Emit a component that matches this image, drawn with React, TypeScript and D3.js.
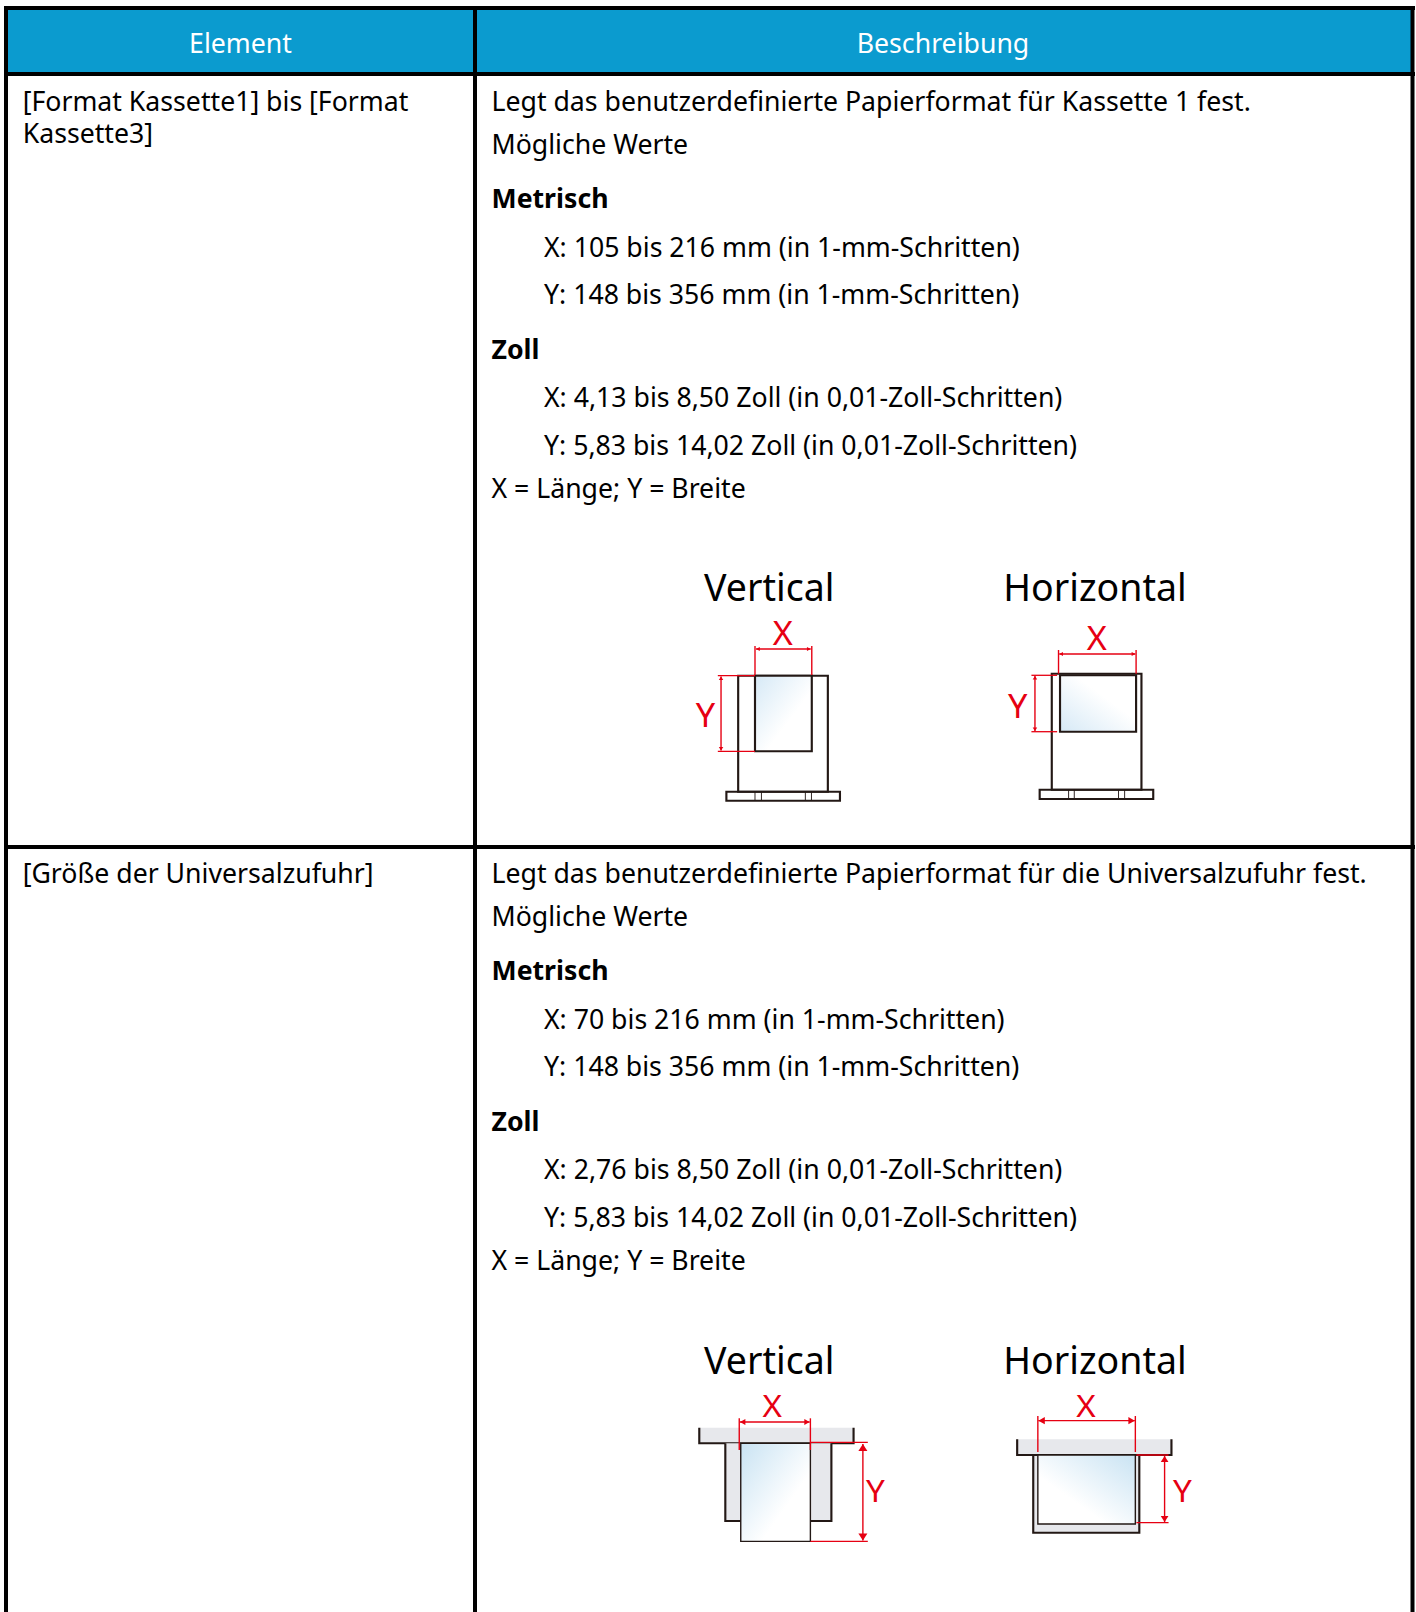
import React from "react";
import * as d3 from "d3";

const headers = ["Element", "Beschreibung"];
const rowLabels = [["[Format Kassette1] bis [Format", "Kassette3]"], ["[Größe der Universalzufuhr]"]];
const firstLines = [
  ["Legt das benutzerdefinierte Papierformat für Kassette 1 fest.", "Mögliche Werte"],
  ["Legt das benutzerdefinierte Papierformat für die Universalzufuhr fest.", "Mögliche Werte"],
];
const metricLines = [
  ["X: 105 bis 216 mm (in 1-mm-Schritten)", "Y: 148 bis 356 mm (in 1-mm-Schritten)"],
  ["X: 70 bis 216 mm (in 1-mm-Schritten)", "Y: 148 bis 356 mm (in 1-mm-Schritten)"],
];
const inchLines = [
  ["X: 4,13 bis 8,50 Zoll (in 0,01-Zoll-Schritten)", "Y: 5,83 bis 14,02 Zoll (in 0,01-Zoll-Schritten)"],
  ["X: 2,76 bis 8,50 Zoll (in 0,01-Zoll-Schritten)", "Y: 5,83 bis 14,02 Zoll (in 0,01-Zoll-Schritten)"],
];
const metricTitle = "Metrisch";
const inchTitle = "Zoll";
const noteLine = "X = Länge; Y = Breite";
const diagramTitles = ["Vertical", "Horizontal"];

const FONT = "'Noto Sans', sans-serif";
const SIZE = 26.67;
const RED = "#e60012";
const INK = "#231815";
const TRAY = "#e7e8ec";
const rowTop = [111, 883];
const STRETCH = `translate(650,0) scale(1.0714,1) translate(-650,0)`;

const rectPath = (x0: number, y0: number, x1: number, y1: number) => {
  const p = d3.path();
  p.rect(x0, y0, x1 - x0, y1 - y0);
  return p.toString();
};
const poly = (pts: [number, number][]) => d3.line()(pts) as string;

function Rect({ b, fill = "none", w = 2, stroke = INK }: any) {
  return <path d={rectPath(b[0], b[1], b[2], b[3])} fill={fill} stroke={stroke} strokeWidth={w} />;
}
function RedLine({ pts, w = 1.3 }: any) {
  return <path d={poly(pts)} fill="none" stroke={RED} strokeWidth={w} />;
}
function HArrow({ x0, x1, y, s = 4 }: any) {
  return (
    <g>
      <RedLine pts={[[x0, y], [x1, y]]} />
      <path d={poly([[x0, y], [x0 + s, y - s * 0.6], [x0 + s, y + s * 0.6]]) + "Z"} fill={RED} />
      <path d={poly([[x1, y], [x1 - s, y - s * 0.6], [x1 - s, y + s * 0.6]]) + "Z"} fill={RED} />
    </g>
  );
}
function VArrow({ x, y0, y1, s = 4 }: any) {
  return (
    <g>
      <RedLine pts={[[x, y0], [x, y1]]} />
      <path d={poly([[x, y0], [x - s * 0.6, y0 + s], [x + s * 0.6, y0 + s]]) + "Z"} fill={RED} />
      <path d={poly([[x, y1], [x - s * 0.6, y1 - s], [x + s * 0.6, y1 - s]]) + "Z"} fill={RED} />
    </g>
  );
}
function RedLetter({ t, x, y, size = 32 }: any) {
  return (
    <text x={x} y={y} textAnchor="middle" fontFamily={FONT} fontSize={size} fill={RED}>
      {t}
    </text>
  );
}
function Base({ x0, x1, y0, y1, ticks }: any) {
  return (
    <g>
      <Rect b={[x0, y0, x1, y1]} />
      {ticks.map((t: number) => (
        <path key={t} d={poly([[t, y0], [t, y1]])} stroke={INK} strokeWidth={0.9} fill="none" />
      ))}
    </g>
  );
}

function Titles({ y }: { y: number }) {
  return (
    <g fontFamily={FONT} fontSize={37.5} fill="#000">
      <text x={769.2} y={y} textAnchor="middle">{diagramTitles[0]}</text>
      <text x={1095} y={y} textAnchor="middle">{diagramTitles[1]}</text>
    </g>
  );
}

function Cassette() {
  return (
    <g>
      <Titles y={600.6} />
      <g transform={STRETCH}>
      {/* vertical */}
      <Rect b={[732.3, 675.7, 816, 791.7]} />
      <Base x0={721.3} x1={827.3} y0={791.7} y1={800.7} ticks={[748, 754, 795, 800.7]} />
      <Rect b={[748, 675.7, 801, 751.3]} fill="url(#gV1)" />
      <RedLine pts={[[748, 646], [748, 675]]} />
      <RedLine pts={[[801, 646], [801, 675]]} />
      <HArrow x0={749} x1={800} y={649} s={3.5} />
      <RedLine pts={[[713.3, 675.7], [748, 675.7]]} />
      <RedLine pts={[[713.3, 751.3], [748, 751.3]]} />
      <VArrow x={716.3} y0={676.5} y1={750.5} s={3.5} />
      <RedLetter t="X" x={774} y={645} />
      <RedLetter t="Y" x={701.7} y={727.5} />
      {/* horizontal */}
      <Rect b={[1025, 673.7, 1108.7, 789.7]} />
      <Base x0={1013.7} x1={1119.7} y0={789.7} y1={799} ticks={[1040.7, 1046, 1087.3, 1093]} />
      <Rect b={[1032.7, 675.3, 1103.7, 731.7]} fill="url(#gH1)" />
      <RedLine pts={[[1031.3, 650], [1031.3, 673.7]]} />
      <RedLine pts={[[1103.7, 650], [1103.7, 673.7]]} />
      <HArrow x0={1032} x1={1103} y={654} s={3.5} />
      <RedLine pts={[[1006, 675.3], [1030, 675.3]]} />
      <RedLine pts={[[1006, 731.7], [1030, 731.7]]} />
      <VArrow x={1009.3} y0={676} y1={731} s={3.5} />
      <RedLetter t="X" x={1067} y={650.3} />
      <RedLetter t="Y" x={993.3} y={718.5} />
      </g>
    </g>
  );
}

function Bypass() {
  const trayPath = (x0: number, y0: number, x1: number, y1: number) => poly([[x0, y0], [x0, y1], [x1, y1], [x1, y0]]);
  return (
    <g>
      <Titles y={1373.6} />
      <g transform={STRETCH}>
      {/* vertical */}
      <path d={rectPath(696, 1427.7, 840, 1443.3)} fill={TRAY} />
      <path d={trayPath(696, 1427.7, 840, 1443.3)} fill="none" stroke={INK} strokeWidth={2} />
      <path d={trayPath(720.3, 1443.3, 819.3, 1521)} fill={TRAY} stroke={INK} strokeWidth={2} />
      <Rect b={[734.7, 1443.3, 799.7, 1541.3]} fill="url(#gV2)" w={1.3} />
      <RedLine pts={[[733.3, 1418.3], [733.3, 1450]]} />
      <RedLine pts={[[799.7, 1418.3], [799.7, 1450]]} />
      <HArrow x0={734} x1={799} y={1422} s={5} />
      <RedLine pts={[[799.7, 1442.3], [853.3, 1442.3]]} />
      <RedLine pts={[[799.7, 1541.3], [853.3, 1541.3]]} />
      <VArrow x={848.7} y0={1444} y1={1540.5} s={7} />
      <RedLetter t="X" x={764} y={1417.3} size={31} />
      <RedLetter t="Y" x={860.3} y={1502} size={31} />
      {/* horizontal */}
      <path d={rectPath(992.7, 1439.3, 1136.7, 1455)} fill={TRAY} />
      <path d={trayPath(992.7, 1439.3, 1136.7, 1455)} fill="none" stroke={INK} strokeWidth={2} />
      <path d={rectPath(1007.7, 1455, 1106.7, 1532.7)} fill={TRAY} stroke={INK} strokeWidth={2} />
      <Rect b={[1012, 1455, 1103, 1524]} fill="url(#gH2)" w={1.3} />
      <RedLine pts={[[1012, 1416], [1012, 1452]]} />
      <RedLine pts={[[1103, 1416], [1103, 1452]]} />
      <HArrow x0={1012.5} x1={1102.5} y={1420.7} s={6} />
      <RedLine pts={[[1104, 1455], [1134, 1455]]} />
      <RedLine pts={[[1104, 1522.7], [1134, 1522.7]]} />
      <VArrow x={1130.3} y0={1456} y1={1522} s={6} />
      <RedLetter t="X" x={1057} y={1416.7} size={31} />
      <RedLetter t="Y" x={1147} y={1501.7} size={31} />
      </g>
    </g>
  );
}

function Description({ i }: { i: number }) {
  const t = rowTop[i];
  const xText = 491.5;
  const xIndent = 544;
  const T = (s: string, x: number, dy: number, bold = false) => (
    <text x={x} y={t + dy} fontWeight={bold ? 700 : 400}>{s}</text>
  );
  return (
    <g fontFamily={FONT} fontSize={SIZE} fill="#000">
      {T(firstLines[i][0], xText, 0)}
      {T(firstLines[i][1], xText, 43)}
      {T(metricTitle, xText, 96.5, true)}
      {T(metricLines[i][0], xIndent, 146)}
      {T(metricLines[i][1], xIndent, 193)}
      {T(inchTitle, xText, 247.5, true)}
      {T(inchLines[i][0], xIndent, 296)}
      {T(inchLines[i][1], xIndent, 343.5)}
      {T(noteLine, xText, 387)}
    </g>
  );
}

export default function App() {
  const W = 1416;
  const H = 1612;
  const colX = d3.scaleOrdinal<number, number>().domain([0, 1]).range([240.5, 943]);
  return (
    <svg width={W} height={H} viewBox={`0 0 ${W} ${H}`} style={{ position: "absolute", left: 0, top: 0, display: "block" }}>
      <defs>
        <linearGradient id="gV1" x1="0" y1="0" x2="1" y2="1">
          <stop offset="0" stopColor="#d6e9f6" /><stop offset="0.6" stopColor="#fff" />
        </linearGradient>
        <linearGradient id="gH1" x1="0" y1="1" x2="1" y2="0">
          <stop offset="0" stopColor="#d6e9f6" /><stop offset="0.6" stopColor="#fff" />
        </linearGradient>
        <linearGradient id="gV2" x1="0" y1="0" x2="1" y2="1">
          <stop offset="0" stopColor="#c9e3f3" /><stop offset="0.65" stopColor="#fff" />
        </linearGradient>
        <linearGradient id="gH2" x1="1" y1="0" x2="0" y2="1">
          <stop offset="0" stopColor="#c9e3f3" /><stop offset="0.65" stopColor="#fff" />
        </linearGradient>
      </defs>
      <rect x={0} y={0} width={W} height={H} fill="#fff" />
      <rect x={6} y={8} width={1406} height={66} fill="#0b9bcf" />
      <g stroke="#000" strokeWidth={4} fill="none">
        <path d={poly([[4, 8], [1415, 8]])} />
        <path d={poly([[4, 74], [1415, 74]])} />
        <path d={poly([[4, 847], [1415, 847]])} />
        <path d={poly([[6, 6], [6, H]])} />
        <path d={poly([[475, 6], [475, H]])} />
        <path d={poly([[1412.5, 6], [1412.5, H]])} />
      </g>
      <g fontFamily={FONT} fontSize={SIZE} fill="#fff" textAnchor="middle">
        {headers.map((h, i) => <text key={h} x={colX(i)} y={52.5}>{h}</text>)}
      </g>
      <g fontFamily={FONT} fontSize={SIZE} fill="#000">
        {rowLabels[0].map((s, j) => <text key={s} x={22.7} y={rowTop[0] + j * 31.5}>{s}</text>)}
        {rowLabels[1].map((s, j) => <text key={s} x={22.7} y={rowTop[1] + j * 31.5}>{s}</text>)}
      </g>
      <Description i={0} />
      <Description i={1} />
      <Cassette />
      <Bypass />
    </svg>
  );
}
